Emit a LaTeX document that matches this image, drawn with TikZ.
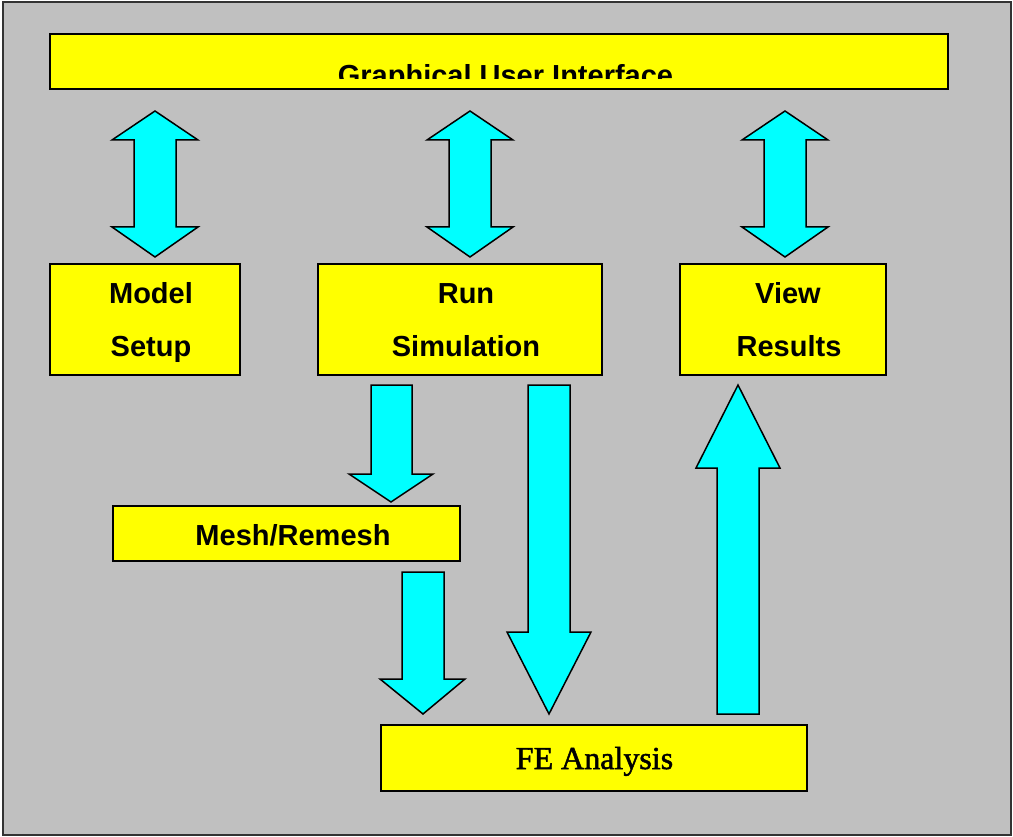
\documentclass[tikz,border=0pt]{standalone}
\usepackage{fontspec}
\setmainfont{Liberation Sans}
\newfontfamily\feserif[FakeBold=1.6]{Liberation Serif}
\definecolor{bggray}{HTML}{C0C0C0}
\definecolor{boxyellow}{HTML}{FFFF00}
\definecolor{arrcyan}{HTML}{00FFFF}
\begin{document}
\begin{tikzpicture}[x=1pt,y=-1pt,
  box/.style={draw=black,line width=1.8pt,fill=boxyellow,inner sep=0pt},
  fatarrow/.style={draw=black,line width=1.5pt,fill=arrcyan,line join=miter},
  lbl/.style={anchor=base,inner sep=0pt,font=\fontsize{29}{35}\selectfont\bfseries},
  fel/.style={anchor=base,inner sep=0pt,font=\fontsize{32}{38}\selectfont\feserif}]
\useasboundingbox (0,0) rectangle (1013,837);
\fill[white] (0,0) rectangle (1013,837);
\draw[fill=bggray,draw=black!80,line width=1.5pt] (3,2) rectangle (1011,835);
% boxes
\node[box,minimum width=898pt,minimum height=55pt] (gui) at (499,61.5) {};
\node[box,minimum width=190pt,minimum height=111pt] (model) at (145,319.5) {};
\node[box,minimum width=284pt,minimum height=111pt] (run) at (460,319.5) {};
\node[box,minimum width=206pt,minimum height=111pt] (view) at (783,319.5) {};
\node[box,minimum width=347pt,minimum height=55pt] (mesh) at (286.5,533.5) {};
\node[box,minimum width=426pt,minimum height=66pt] (fe) at (594,758) {};
% texts
\begin{scope}
\clip (52,36) rectangle (946,79);
\node[lbl] (guiT) at (505.5,86) {Graphical User Interface};
\end{scope}
\node[lbl] (modelT1) at (151,304) {Model};
\node[lbl] (modelT2) at (151,356) {Setup};
\node[lbl] (runT1) at (466,304) {Run};
\node[lbl] (runT2) at (466,356) {Simulation};
\node[lbl] (viewT1) at (788,304) {View};
\node[lbl] (viewT2) at (789,356) {Results};
\node[lbl] (meshT) at (293,545) {Mesh/Remesh};
\node[fel] (feT) at (594.5,769) {FE Analysis};
% double arrows
\draw[fatarrow] (155,111) -- (198,140) -- (176,140) -- (176,227) -- (198,227) -- (155,257) -- (112,227) -- (134,227) -- (134,140) -- (112,140) -- cycle;
\draw[fatarrow] (470,111) -- (513,140) -- (491,140) -- (491,227) -- (513,227) -- (470,257) -- (427,227) -- (449,227) -- (449,140) -- (427,140) -- cycle;
\draw[fatarrow] (785,111) -- (828,140) -- (806,140) -- (806,227) -- (828,227) -- (785,257) -- (742,227) -- (764,227) -- (764,140) -- (742,140) -- cycle;
% single arrows
\draw[fatarrow] (371,385) -- (412,385) -- (412,474) -- (433,474) -- (391,502) -- (349,474) -- (371,474) -- cycle;
\draw[fatarrow] (402,572) -- (444,572) -- (444,679) -- (465,679) -- (423,714) -- (380,679) -- (402,679) -- cycle;
\draw[fatarrow] (528,385) -- (570,385) -- (570,632) -- (591,632) -- (549,714) -- (507,632) -- (528,632) -- cycle;
\draw[fatarrow] (717,714) -- (759,714) -- (759,468) -- (780,468) -- (738,385) -- (696,468) -- (717,468) -- cycle;
\end{tikzpicture}
\end{document}
